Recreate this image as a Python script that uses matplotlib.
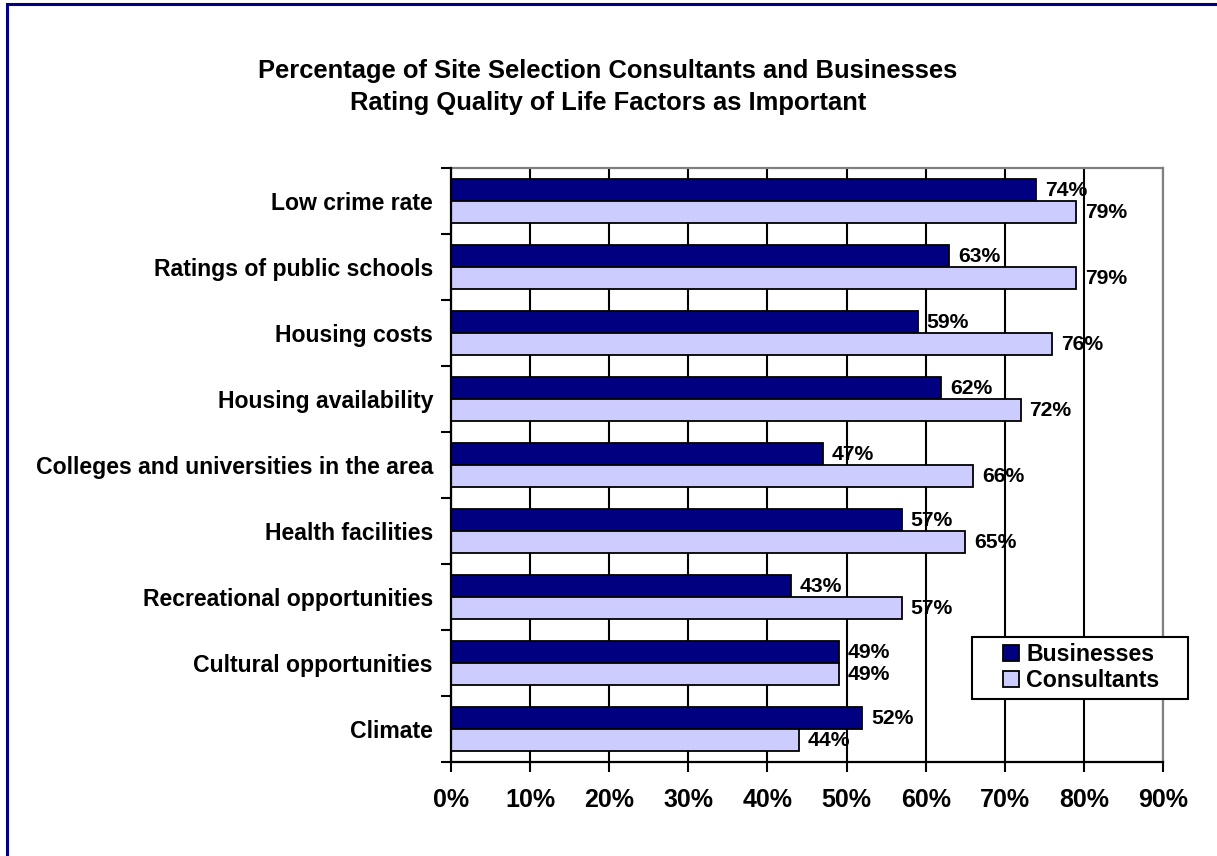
import numpy as np
import matplotlib.pyplot as plt
from matplotlib.patches import Patch, Rectangle

plt.rcParams['font.family'] = ['Liberation Sans', 'DejaVu Sans']
plt.rcParams['font.weight'] = 'bold'

# survey results, top to bottom
factors = ['Low crime rate', 'Ratings of public schools', 'Housing costs',
           'Housing availability', 'Colleges and universities in the area',
           'Health facilities', 'Recreational opportunities',
           'Cultural opportunities', 'Climate']
businesses = [74, 63, 59, 62, 47, 57, 43, 49, 52]
consultants = [79, 79, 76, 72, 66, 65, 57, 49, 44]
x_ticks = [0, 10, 20, 30, 40, 50, 60, 70, 80, 90]

W, H = 1217, 856
fig = plt.figure(figsize=(W / 100, H / 100), dpi=100)
ax = fig.add_axes([451 / W, 1 - 762 / H, (1163 - 451) / W, (762 - 168) / H])

navy = '#000080'
lavender = '#CCCCFF'
y = np.arange(len(factors))
bh = 1 / 3

ax.barh(y - bh / 2, businesses, height=bh, color=navy, edgecolor='black',
        linewidth=1.3, zorder=3)
ax.barh(y + bh / 2, consultants, height=bh, color=lavender, edgecolor='black',
        linewidth=1.3, zorder=3)

for yi, v in zip(y - bh / 2, businesses):
    ax.text(v + 1.1, yi, f'{v}%', va='center', ha='left', fontsize=15.2,
            fontweight='bold', zorder=4)
for yi, v in zip(y + bh / 2, consultants):
    ax.text(v + 1.1, yi, f'{v}%', va='center', ha='left', fontsize=15.2,
            fontweight='bold', zorder=4)

ax.set_xlim(0, 90)
ax.set_ylim(len(factors) - 0.5, -0.5)

ax.set_xticks(x_ticks)
ax.set_xticklabels([f'{t}%' for t in x_ticks], fontsize=18, fontweight='bold')
ax.tick_params(axis='x', direction='out', length=7, width=1.5, pad=12)

# category separators as major ticks, names as minor ticks
ax.set_yticks(np.arange(len(factors) + 1) - 0.5)
ax.set_yticklabels([])
ax.set_yticks(y, minor=True)
ax.set_yticklabels(factors, minor=True, fontsize=16.6, fontweight='bold')
ax.tick_params(axis='y', which='major', direction='out', length=7, width=1.5)
ax.tick_params(axis='y', which='minor', length=0, pad=13)

ax.xaxis.grid(True, color='black', linewidth=1.5, zorder=0)
ax.set_axisbelow(True)
for side in ['left', 'bottom']:
    ax.spines[side].set_color('black')
    ax.spines[side].set_linewidth(1.6)
    ax.spines[side].set_zorder(5)
for side in ['top', 'right']:
    ax.spines[side].set_color('#808080')
    ax.spines[side].set_linewidth(1.6)

fig.text(608 / W, 1 - 87 / H,
         'Percentage of Site Selection Consultants and Businesses\n'
         'Rating Quality of Life Factors as Important',
         ha='center', va='center', fontsize=18.4, fontweight='bold',
         linespacing=1.4)

# legend box drawn separately so it can be wider than its entries
fig.add_artist(Rectangle((972 / W, 1 - 699 / H), (1188 - 972) / W, 62 / H,
                         transform=fig.transFigure, facecolor='white',
                         edgecolor='black', linewidth=1.5, zorder=6))
handles = [Patch(facecolor=navy, edgecolor='black', linewidth=1.3),
           Patch(facecolor=lavender, edgecolor='black', linewidth=1.3)]
leg = fig.legend(handles, ['Businesses', 'Consultants'],
                 loc='upper left', bbox_to_anchor=(1003 / W, 1 - 643 / H),
                 prop={'weight': 'bold', 'size': 16.7},
                 frameon=False, handlelength=0.7, handleheight=0.7,
                 handletextpad=0.3, labelspacing=0.12, borderpad=0,
                 borderaxespad=0)
leg.set_zorder(7)

# outer border around the chart area
fig.add_artist(Rectangle((6.5 / W, -0.05), 1.1, 1.05 - 4 / H,
                         transform=fig.transFigure, fill=False,
                         edgecolor=navy, linewidth=2.2))

fig.savefig('out.png', dpi=100)
